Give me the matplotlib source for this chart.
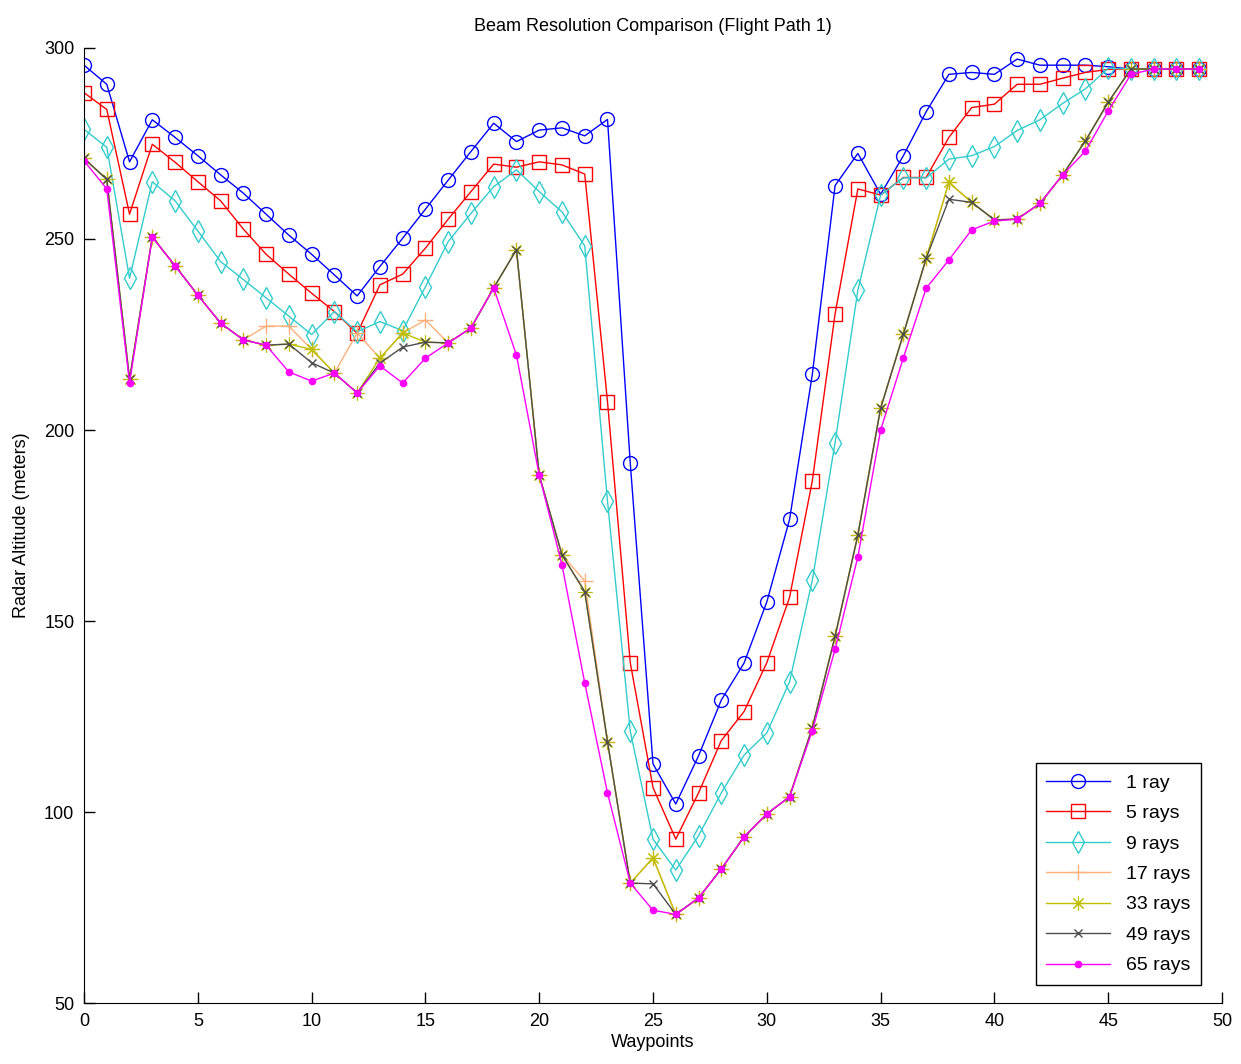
import numpy as np
import matplotlib
matplotlib.use('Agg')
import matplotlib.pyplot as plt

plt.rcParams['font.family'] = ['Liberation Sans', 'DejaVu Sans']

# --- Data ---
waypoints = np.arange(50)

ray1 = [295.5, 290.5, 270.2, 281.2, 276.6, 271.8, 266.8, 262.0, 256.5, 251.0,
        246.0, 240.6, 235.1, 242.8, 250.2, 257.8, 265.4, 272.9, 280.3, 275.5,
        278.5, 279.1, 277.0, 281.3, 191.4, 112.6, 102.1, 114.7, 129.3, 139.0,
        155.0, 176.6, 214.6, 264.0, 272.4, 261.7, 271.8, 283.3, 293.1, 293.6,
        293.1, 297.1, 295.5, 295.5, 295.5, 295.1, 294.5, 294.5, 294.5, 294.5]

ray5 = [288.3, 283.9, 256.5, 274.8, 270.1, 265.0, 260.0, 252.6, 246.0, 240.8,
        235.8, 231.0, 225.3, 238.0, 240.8, 247.6, 255.2, 262.4, 269.6, 268.8,
        270.2, 269.4, 267.0, 207.4, 139.1, 106.4, 92.9, 105.0, 118.7, 126.3,
        139.1, 156.2, 186.7, 230.4, 263.1, 261.5, 266.1, 266.1, 276.6, 284.4,
        285.3, 290.5, 290.5, 292.1, 293.6, 294.4, 294.5, 294.5, 294.5, 294.5]

ray9 = [278.7, 274.0, 239.7, 265.0, 260.0, 252.1, 244.1, 239.4, 234.6, 229.8,
        225.0, 231.0, 225.7, 228.4, 226.0, 237.5, 249.3, 256.7, 263.7, 268.1,
        262.4, 257.1, 248.2, 181.4, 121.2, 92.9, 84.8, 93.8, 105.0, 114.9,
        120.7, 134.1, 160.7, 196.7, 236.6, 261.5, 266.0, 266.0, 270.9, 271.8,
        274.2, 278.4, 281.2, 285.5, 289.3, 294.7, 294.5, 294.5, 294.5, 294.5]

ray17 = [271.1, 265.6, 213.3, 250.5, 243.0, 235.3, 228.0, 223.6, 227.2, 227.2,
         221.1, 214.9, 225.4, 218.8, 225.4, 228.8, 222.8, 226.7, 237.2, 247.2,
         188.2, 167.3, 160.5, 118.4, 81.4, 88.0, 73.2, 77.5, 85.1, 93.5,
         99.5, 104.0, 122.1, 146.0, 172.5, 205.7, 225.1, 244.9, 264.8, 259.6,
         255.0, 255.2, 259.3, 266.8, 275.7, 285.8, 294.5, 294.5, 294.5, 294.5]

ray33 = [271.1, 265.6, 213.3, 250.5, 243.0, 235.3, 228.0, 223.6, 222.2, 222.5,
         221.1, 214.9, 209.7, 218.8, 225.4, 223.0, 222.8, 226.7, 237.2, 247.2,
         188.2, 167.3, 157.7, 118.4, 81.4, 88.0, 73.2, 77.5, 85.1, 93.5,
         99.5, 104.0, 122.1, 146.0, 172.5, 205.7, 225.1, 244.9, 264.8, 259.6,
         255.0, 255.2, 259.3, 266.8, 275.7, 285.8, 294.5, 294.5, 294.5, 294.5]

ray49 = [271.1, 265.6, 213.3, 250.5, 243.0, 235.3, 228.0, 223.6, 222.2, 222.5,
         217.6, 214.9, 209.7, 217.5, 221.7, 223.0, 222.8, 226.7, 237.2, 247.2,
         188.2, 167.3, 157.7, 118.4, 81.4, 81.2, 73.2, 77.5, 85.1, 93.5,
         99.5, 104.0, 122.1, 146.0, 172.5, 205.7, 225.1, 244.9, 260.4, 259.6,
         255.0, 255.2, 259.3, 266.8, 275.7, 285.8, 294.5, 294.5, 294.5, 294.5]

ray65 = [270.5, 263.1, 212.3, 250.5, 243.0, 235.3, 228.0, 223.6, 222.2, 215.2,
         212.8, 214.9, 209.7, 216.8, 212.3, 218.8, 222.8, 226.7, 237.2, 219.6,
         188.2, 164.7, 133.8, 105.0, 81.4, 74.3, 73.2, 77.5, 85.1, 93.5,
         99.5, 104.0, 121.3, 142.6, 166.8, 200.0, 218.9, 237.1, 244.5, 252.4,
         254.7, 255.2, 259.3, 266.8, 273.0, 283.5, 293.1, 294.5, 294.5, 294.5]

labels = ['1 ray', '5 rays', '9 rays', '17 rays', '33 rays', '49 rays', '65 rays']

# --- Plot ---
fig = plt.figure(figsize=(12.41, 10.64), dpi=100)
ax = fig.add_axes([0.0677, 0.0573, 0.917, 0.8976])

ax.plot(waypoints, ray1, color='#0000ff', marker='o', ms=10, mfc='none', lw=1.0, label=labels[0])
ax.plot(waypoints, ray5, color='#ff0000', marker='s', ms=10, mfc='none', lw=1.0, label=labels[1])
ax.plot(waypoints, ray9, color='#33cccc', marker='d', ms=11, mfc='none', lw=1.0, label=labels[2])
ax.plot(waypoints, ray17, color='#ffb07a', marker='+', ms=11, lw=1.0, label=labels[3])
ax.plot(waypoints, ray33, color='#bfbf00', marker=(8, 2, 0), ms=10, mew=0.8, lw=1.0, label=labels[4])
ax.plot(waypoints, ray49, color='#4d4d4d', marker='x', ms=6, lw=1.0, label=labels[5])
ax.plot(waypoints, ray65, color='#ff00ff', marker='o', ms=4.5, mec='#ff00ff', lw=1.0, label=labels[6])

ax.set_xlim(0, 50)
ax.set_ylim(50, 300)
ax.set_xticks(range(0, 51, 5))
ax.set_yticks(range(50, 301, 50))
ax.tick_params(direction='in', length=8, width=1, labelsize=13, pad=7)
ax.spines['top'].set_visible(False)
ax.spines['right'].set_visible(False)

ax.set_title('Beam Resolution Comparison (Flight Path 1)', fontsize=13, pad=12)
ax.set_xlabel('Waypoints', fontsize=13, labelpad=3)
ax.set_ylabel('Radar Altitude (meters)', fontsize=13, labelpad=10)

leg = ax.legend(loc='lower right', bbox_to_anchor=(1201 / 1241, 1 - 985 / 1064),
                bbox_transform=fig.transFigure, borderaxespad=0, fontsize=14,
                fancybox=False, edgecolor='black', framealpha=1,
                handlelength=3.3, labelspacing=0.66, borderpad=0.55)
leg.get_frame().set_linewidth(1.0)

fig.savefig('out.png', dpi=100)
